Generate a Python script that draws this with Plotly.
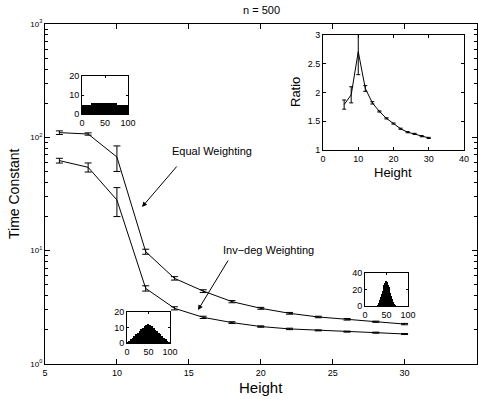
import plotly.graph_objects as go

W, H = 478, 399

# ---- data ----
heights = [6, 8, 10, 12, 14, 16, 18, 20, 22, 24, 26, 28, 30]
equal_tc = [110, 107, 67, 9.8, 5.7, 4.4, 3.55, 3.1, 2.8, 2.6, 2.48, 2.36, 2.25]
equal_err = [4, 2.5, 17, 0.5, 0.2, 0.12, 0.08, 0.06, 0.05, 0.04, 0.04, 0.03, 0.03]
invdeg_tc = [62.3, 54.4, 28, 4.65, 3.1, 2.58, 2.32, 2.14, 2.04, 1.98, 1.93, 1.89, 1.84]
invdeg_err = [3, 5, 8, 0.25, 0.1, 0.06, 0.04, 0.03, 0.03, 0.02, 0.02, 0.02, 0.02]

ratio = [1.79, 1.96, 2.71, 2.07, 1.82, 1.67, 1.55, 1.46, 1.37, 1.31, 1.28, 1.24, 1.21]
ratio_err = [0.08, 0.14, 0.4, 0.05, 0.02, 0.01, 0.01, 0.01, 0.01, 0.01, 0.01, 0.01, 0.01]

hist1_x = [2.5, 7.5, 12.5, 17.5, 22.5, 27.5, 32.5, 37.5, 42.5, 47.5,
           52.5, 57.5, 62.5, 67.5, 72.5, 77.5, 82.5, 87.5, 92.5, 97.5]
hist1_counts = [4.6, 4.8, 4.7, 4.9, 5.7, 5.8, 5.7, 5.9, 5.8, 5.7,
                5.8, 5.9, 5.7, 5.8, 5.6, 4.9, 4.7, 4.8, 4.6, 4.8]

hist2_x = [2, 6, 10, 14, 18, 22, 26, 30, 34, 38, 42, 46, 50,
           54, 58, 62, 66, 70, 74, 78, 82, 86, 90, 94, 98]
hist2_counts = [0.3, 1.4, 2.5, 3.5, 4.7, 5.7, 6.6, 7.8, 8.8, 9.8, 10.8, 11.6, 12.1,
                11.5, 10.7, 9.8, 8.7, 7.7, 6.6, 5.6, 4.5, 3.5, 2.4, 1.3, 0.3]

hist3_x = [31, 33, 35, 37, 39, 41, 43, 45, 47, 49,
           51, 53, 55, 57, 59, 61, 63, 65, 67, 69]
hist3_counts = [1.0, 4.0, 7.5, 11, 14.5, 18, 21.5, 25, 28, 30,
                29, 26, 22.5, 19, 15.5, 12, 8.5, 5, 2, 0.3]

FONT = "Liberation Sans, Arial, Helvetica, sans-serif"


def px_x(p):
    return p / W


def px_y(p):
    return 1 - p / H


fig = go.Figure()

# main traces
fig.add_trace(go.Scatter(
    x=heights, y=equal_tc, mode="lines", line=dict(color="black", width=1),
    error_y=dict(type="data", array=equal_err, color="black", thickness=1, width=3.5),
    xaxis="x", yaxis="y", showlegend=False))
fig.add_trace(go.Scatter(
    x=heights, y=invdeg_tc, mode="lines", line=dict(color="black", width=1),
    error_y=dict(type="data", array=invdeg_err, color="black", thickness=1, width=3.5),
    xaxis="x", yaxis="y", showlegend=False))

# ratio inset
fig.add_trace(go.Scatter(
    x=heights, y=ratio, mode="lines", line=dict(color="black", width=1),
    error_y=dict(type="data", array=ratio_err, color="black", thickness=1, width=2),
    xaxis="x2", yaxis="y2", showlegend=False))

# histogram insets
for i, (hx, hc) in enumerate([(hist1_x, hist1_counts), (hist2_x, hist2_counts),
                               (hist3_x, hist3_counts)]):
    fig.add_trace(go.Bar(x=hx, y=hc, marker=dict(color="black", line=dict(width=0)),
                         xaxis=f"x{i+3}", yaxis=f"y{i+3}", showlegend=False))

axis_common = dict(showline=True, linecolor="black", linewidth=1, mirror="ticks",
                   ticks="inside", tickcolor="black", showgrid=False, zeroline=False,
                   automargin=False,
                   tickfont=dict(family=FONT, size=9, color="black"))

layout = dict(
    width=W, height=H, margin=dict(l=0, r=0, t=0, b=0, autoexpand=False),
    paper_bgcolor="white", plot_bgcolor="rgba(0,0,0,0)",
    bargap=0, showlegend=False,
    font=dict(family=FONT, color="black"),
)

layout["xaxis"] = dict(axis_common, domain=[px_x(45), px_x(476.5)], range=[5, 35],
                       tickvals=[5, 10, 15, 20, 25, 30, 35], ticklen=5,
                       tickfont=dict(family=FONT, size=9, color="black"), anchor="y")
layout["yaxis"] = dict(axis_common, domain=[px_y(364), px_y(24)], type="log", range=[0, 3],
                       tickvals=[1, 10, 100, 1000],
                       ticktext=["10<sup>0</sup>", "10<sup>1</sup>", "10<sup>2</sup>", "10<sup>3</sup>"],
                       ticklen=5, tickfont=dict(family=FONT, size=8, color="black"),
                       minor=dict(ticks="inside", ticklen=3, tickcolor="black", dtick="D1"),
                       anchor="x")
layout["xaxis2"] = dict(axis_common, domain=[px_x(323), px_x(464)], range=[0, 40],
                        tickvals=[0, 10, 20, 30, 40], ticklen=3, anchor="y2")
layout["yaxis2"] = dict(axis_common, domain=[px_y(150), px_y(35)], range=[1, 3],
                        tickvals=[1, 1.5, 2, 2.5, 3], ticklen=3, anchor="x2")

hist_dom = [
    ([82, 128], [114, 76], [0, 20], [0, 10, 20]),
    ([127, 170], [343, 312], [0, 20], [0, 10, 20]),
    ([365, 408], [306, 273], [0, 40], [0, 20, 40]),
]
for i, (xd, yd, yr, yt) in enumerate(hist_dom):
    n = i + 3
    layout[f"xaxis{n}"] = dict(axis_common, domain=[px_x(xd[0]), px_x(xd[1])], range=[0, 100],
                               tickvals=[0, 50, 100], ticklen=2, anchor=f"y{n}")
    layout[f"yaxis{n}"] = dict(axis_common, domain=[px_y(yd[0]), px_y(yd[1])], range=yr,
                               tickvals=yt, ticklen=2, anchor=f"x{n}")

fig.update_layout(**layout)

# white backgrounds behind insets
shapes = []
for xd, yd in [([323, 464], [150, 35]), ([82, 128], [114, 76]),
               ([127, 170], [343, 312]), ([365, 408], [306, 273])]:
    shapes.append(dict(type="rect", xref="paper", yref="paper",
                       x0=px_x(xd[0]), x1=px_x(xd[1]), y0=px_y(yd[0]), y1=px_y(yd[1]),
                       fillcolor="white", line=dict(width=0), layer="below"))
fig.update_layout(shapes=shapes)


def label(text, x, y, size, angle=0):
    return dict(text=text, x=px_x(x), y=px_y(y), xref="paper", yref="paper",
                xanchor="center", yanchor="middle", showarrow=False, textangle=angle,
                font=dict(size=size, family=FONT, color="black"))


ann = [
    label("n = 500", 261, 10, 11),
    label("Time Constant", 14, 194, 14, -90),
    label("Height", 261, 387, 15),
    label("Ratio", 295, 92, 13, -90),
    label("Height", 393, 173, 13),
    label("Equal Weighting", 212, 151, 11),
    label("Inv\u2212deg Weighting", 268, 250, 11),
]
ann.append(dict(text="", x=px_x(142), y=px_y(207), xref="paper", yref="paper",
                showarrow=True, ax=36, ay=-42, arrowhead=2, arrowsize=1, arrowwidth=1,
                arrowcolor="black"))
ann.append(dict(text="", x=px_x(198), y=px_y(310), xref="paper", yref="paper",
                showarrow=True, ax=31, ay=-51, arrowhead=2, arrowsize=1, arrowwidth=1,
                arrowcolor="black"))
fig.update_layout(annotations=ann)

fig.write_html("out.html")
